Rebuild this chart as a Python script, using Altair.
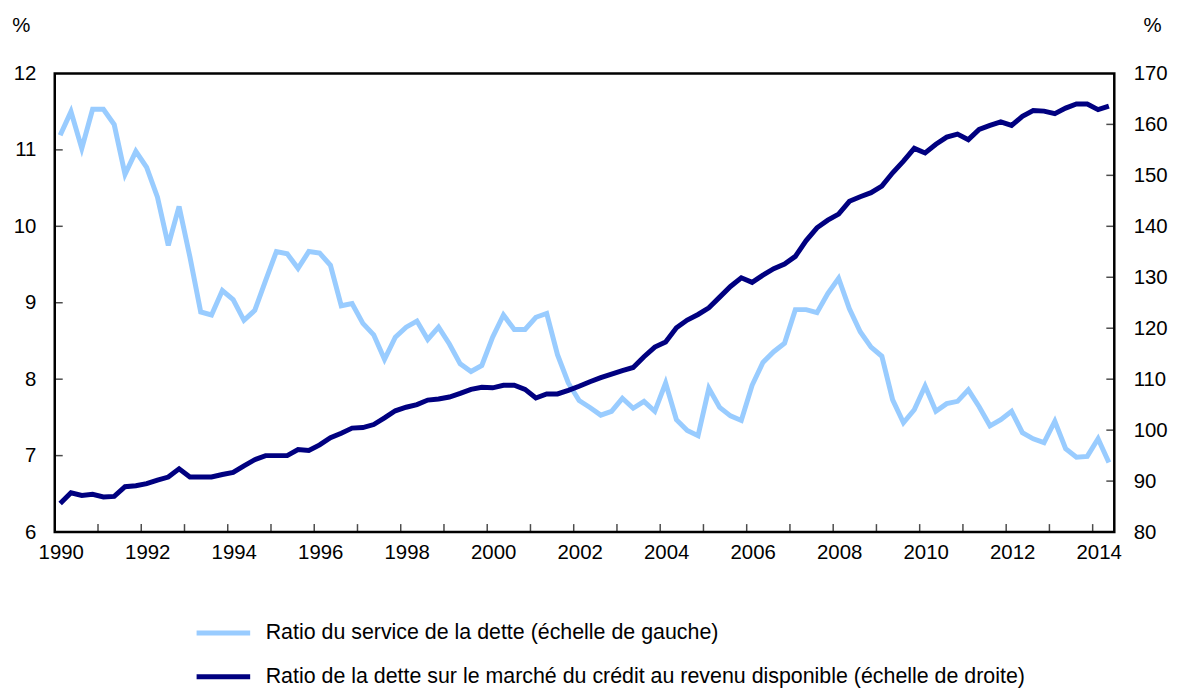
import altair as alt
import pandas as pd

# Quarterly data, 1990Q1 - 2014Q2
debt_service = [
    11.19, 11.50, 11.02, 11.53, 11.53, 11.33, 10.68, 10.98, 10.77, 10.38,
    9.75, 10.26, 9.60, 8.88, 8.84, 9.16, 9.04, 8.77, 8.90, 9.29,
    9.67, 9.64, 9.45, 9.67, 9.65, 9.49, 8.96, 8.99, 8.73, 8.58,
    8.26, 8.55, 8.68, 8.76, 8.52, 8.68, 8.46, 8.20, 8.10, 8.18,
    8.55, 8.84, 8.65, 8.65, 8.81, 8.86, 8.32, 7.95, 7.72, 7.63,
    7.53, 7.58, 7.75, 7.62, 7.71, 7.58, 7.95, 7.47, 7.33, 7.26,
    7.88, 7.63, 7.52, 7.46, 7.92, 8.22, 8.36, 8.47, 8.91, 8.91,
    8.87, 9.12, 9.32, 8.92, 8.62, 8.42, 8.30, 7.73, 7.43, 7.60,
    7.91, 7.58, 7.68, 7.71, 7.86, 7.64, 7.39, 7.47, 7.58, 7.30,
    7.22, 7.17, 7.45, 7.09, 6.98, 6.99, 7.22, 6.91,
]
debt_income = [
    85.6, 87.7, 87.2, 87.4, 86.9, 87.0, 88.9, 89.1, 89.5, 90.2,
    90.8, 92.4, 90.8, 90.8, 90.8, 91.3, 91.7, 93.0, 94.2, 95.0,
    95.0, 95.0, 96.2, 96.0, 97.1, 98.5, 99.4, 100.4, 100.5, 101.1,
    102.4, 103.8, 104.5, 105.0, 105.9, 106.1, 106.5, 107.2, 108.0, 108.4,
    108.3, 108.8, 108.8, 108.0, 106.3, 107.1, 107.1, 107.8, 108.6, 109.5,
    110.3, 111.0, 111.7, 112.3, 114.4, 116.3, 117.3, 120.1, 121.6, 122.7,
    124.0, 126.1, 128.2, 129.9, 129.0, 130.4, 131.7, 132.6, 134.1, 137.2,
    139.7, 141.2, 142.4, 144.9, 145.8, 146.6, 147.9, 150.5, 152.8, 155.3,
    154.4, 156.1, 157.5, 158.1, 157.0, 159.0, 159.8, 160.5, 159.8, 161.6,
    162.7, 162.6, 162.1, 163.2, 164.0, 164.0, 162.9, 163.6,
]
start_year = 1990
series_names = [
    "Ratio du service de la dette (échelle de gauche)",
    "Ratio de la dette sur le marché du crédit au revenu disponible (échelle de droite)",
]
colors = ["#99CCFF", "#000080"]
x_label_years = list(range(1990, 2015, 2))
x_tick_years = list(range(1991, 2015))
left_ticks = [6, 7, 8, 9, 10, 11, 12]
right_ticks = [80, 90, 100, 110, 120, 130, 140, 150, 160, 170]

t = [start_year + 0.125 + 0.25 * i for i in range(len(debt_service))]
df = pd.DataFrame({
    "t": t,
    "dsr": debt_service,
    "dti": debt_income,
})
df["s1"] = series_names[0]
df["s2"] = series_names[1]

W, H = 1065, 461
FONT = "Liberation Sans"
FS = 20.5
LFS = 21.5

x_scale = alt.Scale(domain=[1990, 2014.5], nice=False, zero=False)
yl_scale = alt.Scale(domain=[6, 12], nice=False, zero=False)
yr_scale = alt.Scale(domain=[80, 170], nice=False, zero=False)
color_scale = alt.Scale(domain=series_names, range=colors)

x_enc = alt.X("t:Q", scale=x_scale, title=None,
              axis=alt.Axis(values=x_label_years, format="d", ticks=False, domain=False,
                            grid=False, labelFlush=False, labelOffset=6, labelPadding=11,
                            labelFontSize=FS, labelFont=FONT, labelColor="black"))

legend = alt.Legend(orient="none", legendX=140, legendY=533, direction="vertical",
                    title=None, symbolType="stroke", symbolStrokeWidth=5, symbolSize=2900,
                    labelFontSize=LFS, labelFont=FONT, labelColor="black", labelOffset=13,
                    labelLimit=0, rowPadding=4)

light = alt.Chart(df).mark_line(strokeWidth=5).encode(
    x=x_enc,
    y=alt.Y("dsr:Q", scale=yl_scale,
            axis=alt.Axis(values=left_ticks, ticks=False, domain=False, grid=False,
                          labelPadding=19, labelFontSize=FS, labelFont=FONT, labelColor="black",
                          title="%", titleAngle=0, titleX=-34, titleY=-48, titleAlign="center",
                          titleBaseline="middle", titleFontSize=FS, titleFont=FONT,
                          titleFontWeight="normal", titleColor="black")),
    color=alt.Color("s1:N", scale=color_scale, legend=legend),
)

dark = alt.Chart(df).mark_line(strokeWidth=5).encode(
    x=alt.X("t:Q", scale=x_scale),
    y=alt.Y("dti:Q", scale=yr_scale,
            axis=alt.Axis(orient="right", values=right_ticks, ticks=False, domain=False, grid=False,
                          labelPadding=19, labelFontSize=FS, labelFont=FONT, labelColor="black",
                          title="%", titleAngle=0, titleX=38, titleY=-48, titleAlign="center",
                          titleBaseline="middle", titleFontSize=FS, titleFont=FONT,
                          titleFontWeight="normal", titleColor="black")),
    color=alt.Color("s2:N", scale=color_scale, legend=legend),
)

xt = alt.Chart(pd.DataFrame({"yr": x_tick_years})).mark_tick(
    orient="vertical", color="black", thickness=1.5, size=8
).encode(x=alt.X("yr:Q", scale=x_scale), y=alt.value(H - 4))

lt = alt.Chart(pd.DataFrame({"v": left_ticks[1:-1]})).mark_tick(
    orient="horizontal", color="black", thickness=1.5, size=8
).encode(y=alt.Y("v:Q", scale=yl_scale, axis=None), x=alt.value(4))

rt = alt.Chart(pd.DataFrame({"v": right_ticks[1:-1]})).mark_tick(
    orient="horizontal", color="black", thickness=1.5, size=8
).encode(y=alt.Y("v:Q", scale=yr_scale, axis=None), x=alt.value(W - 4))

chart = alt.layer(light, dark, xt, lt, rt).resolve_scale(
    y="independent"
).properties(
    width=W, height=H,
    background="white",
    autosize=alt.AutoSizeParams(type="none"),
    padding={"left": 47, "top": 64, "right": 56, "bottom": 158},
).configure_view(
    stroke="black", strokeWidth=2.5
)

chart.save("out.html", embed_options={"renderer": "svg", "actions": False})
